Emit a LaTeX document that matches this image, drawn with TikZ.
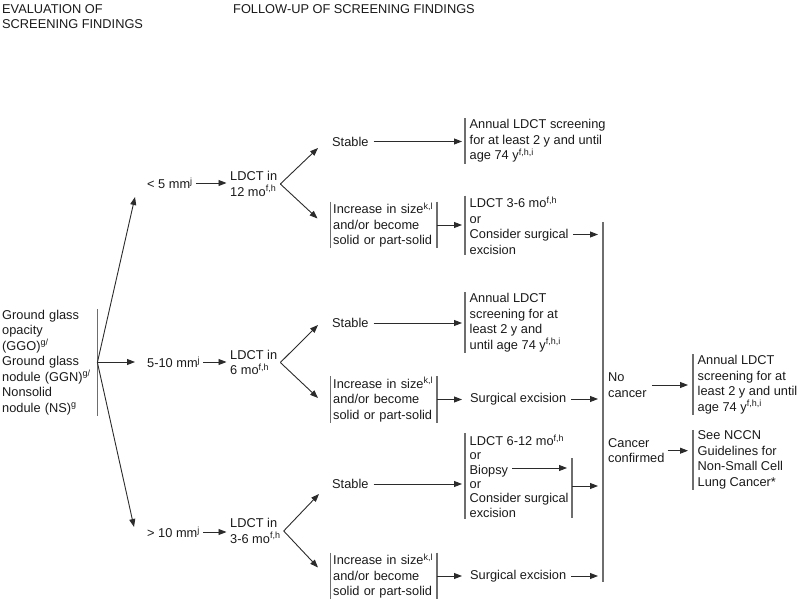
\documentclass[tikz,border=0pt]{standalone}
\usepackage{fontspec}
\setmainfont{Liberation Sans}
\usetikzlibrary{arrows.meta}
\definecolor{ink}{HTML}{1A1A1A}
\definecolor{linec}{HTML}{2B2B2B}
\definecolor{barc}{HTML}{6E6E6E}
\newcommand{\sps}[1]{\textsuperscript{#1}}

\begin{document}
\begin{tikzpicture}[
    x=1pt, y=-1pt,
    every node/.style={anchor=west, align=left, inner xsep=3pt, inner ysep=0pt, text=ink,
        font=\fontsize{12.8}{15.5}\selectfont},
    rbox/.style={inner xsep=4.5pt, inner ysep=1pt},
    lbox/.style={text width=101pt, inner xsep=2.5pt, inner ysep=1pt},
    tight/.style={font=\fontsize{12.8}{14.4}\selectfont},
    arr/.style={-{Triangle[length=8pt, width=6pt]}, line width=0.9pt, draw=linec},
    bar/.style={line width=1.2pt, draw=barc}
    ]

    \useasboundingbox (0,0) rectangle (800,601);

    \node (Eval) at (-1,16.7) {EVALUATION OF\\SCREENING FINDINGS};
    \node (Follow) at (230,9) {FOLLOW-UP OF SCREENING FINDINGS};

    \node[text width=92pt, inner ysep=1pt] (GGO) at (-1,362.5) {Ground glass\\opacity\\(GGO)\sps{g/}\\Ground glass\\nodule (GGN)\sps{g/}\\Nonsolid\\nodule (NS)\sps{g}};

    \node (S1) at (144,183) {< 5 mm\sps{j}};
    \node (S2) at (144,362) {5-10 mm\sps{j}};
    \node (S3) at (144,532) {> 10 mm\sps{j}};

    \node (L1) at (227,184) {LDCT in\\12 mo\sps{f,h}};
    \node (L2) at (227,362.5) {LDCT in\\6 mo\sps{f,h}};
    \node (L3) at (227,531) {LDCT in\\3-6 mo\sps{f,h}};

    \node (St1) at (329,141.5) {Stable};
    \node (St2) at (329,323) {Stable};
    \node (St3) at (329,484) {Stable};

    \node[lbox] (In1) at (330.5,225) {Increase in size\sps{k,l}\\and/or become\\solid or part-solid};
    \node[lbox] (In2) at (330.5,399.5) {Increase in size\sps{k,l}\\and/or become\\solid or part-solid};
    \node[lbox] (In3) at (330.5,576) {Increase in size\sps{k,l}\\and/or become\\solid or part-solid};

    \node[rbox] (An1) at (465,141) {Annual LDCT screening\\for at least 2 y and until\\age 74 y\sps{f,h,i}};
    \node[rbox] (Op1) at (465,225.5) {LDCT 3-6 mo\sps{f,h}\\or\\Consider surgical\\excision};
    \node[rbox] (An2) at (465,322.5) {Annual LDCT\\screening for at\\least 2 y and\\until age 74 y\sps{f,h,i}};
    \node (Ex2) at (467,399) {Surgical excision};
    \node[rbox, tight] (Op3) at (465,476) {LDCT 6-12 mo\sps{f,h}\\or\\Biopsy\\or\\Consider surgical\\excision};
    \node (Ex3) at (467,576) {Surgical excision};

    \node (NoC) at (605,385) {No\\cancer};
    \node (CaC) at (605,450.7) {Cancer\\confirmed};
    \node[rbox] (An3) at (693,384.6) {Annual LDCT\\screening for at\\least 2 y and until\\age 74 y\sps{f,h,i}};
    \node[rbox] (Nccn) at (693,460) {See NCCN\\Guidelines for\\Non-Small Cell\\Lung Cancer*};

    \coordinate (Top) at (603,222);
    \coordinate (Bot) at (603,582);
    \coordinate (Cs) at ([yshift=-9pt]Op1.east);
    \coordinate (Bio) at (512,468);
    \coordinate (SbTop) at (572,458);
    \coordinate (SbBot) at (572,518);
    \coordinate (SbMid) at (572,486);

    \draw[bar] (GGO.north east) -- (GGO.south east);
    \foreach \n in {In1,In2,In3} {
        \draw[bar] (\n.north west) -- (\n.south west);
        \draw[bar] (\n.north east) -- (\n.south east);
    }
    \foreach \n in {An1,Op1,An2,Op3,An3,Nccn}
        \draw[bar] (\n.north west) -- (\n.south west);
    \draw[bar] (Top) -- (Bot);
    \draw[bar] (SbTop) -- (SbBot);

    \draw[arr] (GGO.east) -- ([shift={(-9,14)}]S1.west);
    \draw[arr, shorten >=9pt] (GGO.east |- S2.west) -- (S2.west);
    \draw[arr] (GGO.east) -- ([shift={(-10,-5)}]S3.west);

    \foreach \a/\b in {S1/L1, S2/L2, S3/L3}
        \draw[arr, shorten >=0.5pt] (\a.east) -- (\a.east -| \b.west);

    \draw[arr] (L1.east) -- ([shift={(-11,6.5)}]St1.west);
    \draw[arr] (L1.east) -- ([shift={(-13,-6.5)}]In1.west);
    \draw[arr] (L2.east) -- ([shift={(-11,2)}]St2.west);
    \draw[arr] (L2.east) -- ([shift={(-12.5,-1.5)}]In2.west);
    \draw[arr] (L3.east) -- ([shift={(-10,10)}]St3.west);
    \draw[arr] (L3.east) -- ([shift={(-12.5,-8.5)}]In3.west);

    \foreach \a/\b in {St1/An1, St2/An2, St3/Op3}
        \draw[arr, shorten <=2pt, shorten >=3pt] (\a.east) -- (\a.east -| \b.west);
    \draw[arr, shorten >=3pt] (In1.east) -- (In1.east -| Op1.west);
    \draw[arr, shorten >=5pt] (In2.east) -- (In2.east -| Ex2.west);
    \draw[arr, shorten >=5pt] (In3.east) -- (In3.east -| Ex3.west);

    \draw[arr, shorten >=5pt] (Cs) -- (Cs -| Top);
    \draw[arr, shorten <=2pt, shorten >=5pt] (Ex2.east) -- (Ex2.east -| Top);
    \draw[arr, shorten <=2pt, shorten >=5pt] (Ex3.east) -- (Ex3.east -| Top);
    \draw[arr, shorten >=5pt] (Bio) -- (Bio -| SbTop);
    \draw[arr, shorten >=5pt] (SbMid) -- (SbMid -| Top);

    \draw[arr, shorten <=2pt, shorten >=5pt] (NoC.east) -- (NoC.east -| An3.west);
    \draw[arr, shorten >=5pt] (CaC.east) -- (CaC.east -| Nccn.west);

\end{tikzpicture}
\end{document}
